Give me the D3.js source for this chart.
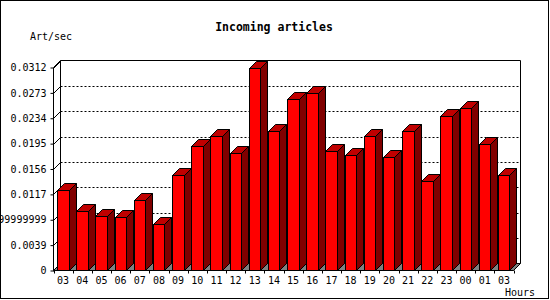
<!DOCTYPE html>
<html>
<head>
<meta charset="utf-8">
<script src="https://cdn.jsdelivr.net/npm/d3@7"></script>
<style>
  body { margin: 0; background: #fff; }
  svg text { font-family: "DejaVu Sans Mono", monospace; font-size: 10px; fill: #000; }
</style>
</head>
<body>
<svg id="chart" width="550" height="300"></svg>
<script>
var hours = ["03", "04", "05", "06", "07", "08", "09", "10", "11", "12", "13", "14",
    "15", "16", "17", "18", "19", "20", "21", "22", "23", "00", "01", "03"];
var artPerSec = [0.0123, 0.0092, 0.00845, 0.00815, 0.0109, 0.0071, 0.01475, 0.0192,
    0.0206, 0.0181, 0.0312, 0.0215, 0.0264, 0.0273, 0.0184, 0.0178, 0.0206, 0.0175,
    0.0215, 0.0137, 0.0237, 0.0250, 0.0195, 0.01475];
var tickValues = [0, 0.0039, 0.0078, 0.0117, 0.0156, 0.0195, 0.0234, 0.0273, 0.0312];
var tickLabels = ["0", "0.0039", "0.0077999999999999", "0.0117", "0.0156", "0.0195",
    "0.0234", "0.0273", "0.0312"];

var svg = d3.select("#chart");
var dx = 7, dy = 7;
var plotLeft = 53.5, plotRight = 513.5, plotBottom = 270.5, plotTop = 67.5;

// slots by index, since "03" appears twice
var x = d3.scaleBand().domain(d3.range(hours.length)).range([plotLeft, plotRight]).padding(0);
var y = d3.scaleLinear().domain([0, 0.0312]).range([plotBottom, plotTop]);

// outer border
svg.append("rect").attr("x", 0.5).attr("y", 0.5).attr("width", 548).attr("height", 298)
    .attr("fill", "#fff").attr("stroke", "#000");

svg.append("text").attr("x", 274).attr("y", 31).attr("text-anchor", "middle")
    .style("font-size", "11.5px").style("font-weight", "bold").text("Incoming articles");
svg.append("text").attr("x", 30).attr("y", 40).text("Art/sec");
svg.append("text").attr("x", 535).attr("y", 296).attr("text-anchor", "end").text("Hours");

// back wall frame
svg.append("path")
    .attr("d", "M" + (plotLeft + dx) + "," + (plotBottom - dy) + "V" + (plotTop - dy) +
        "H" + (plotRight + dx) + "V" + (plotBottom - dy))
    .attr("fill", "none").attr("stroke", "#000");

// dotted grid on back wall
svg.selectAll(".grid")
    .data(tickValues.slice(1, -1))
    .enter()
    .append("line")
    .attr("x1", plotLeft + dx).attr("x2", plotRight + dx)
    .attr("y1", function(d) { return Math.round(y(d)) + 0.5 - dy; })
    .attr("y2", function(d) { return Math.round(y(d)) + 0.5 - dy; })
    .attr("stroke", "#000").attr("stroke-dasharray", "2,2");

// connectors from front ticks to back wall
svg.selectAll(".conn")
    .data(tickValues)
    .enter()
    .append("line")
    .attr("x1", plotLeft).attr("x2", plotLeft + dx)
    .attr("y1", function(d) { return Math.round(y(d)) + 0.5; })
    .attr("y2", function(d) { return Math.round(y(d)) + 0.5 - dy; })
    .attr("stroke", "#000");

// floor
svg.append("path")
    .attr("d", "M" + plotLeft + "," + plotBottom + "L" + (plotLeft + dx) + "," + (plotBottom - dy) +
        "H" + (plotRight + dx) + "L" + plotRight + "," + plotBottom + "Z")
    .attr("fill", "#808080").attr("stroke", "#000");

// 3d bars
var bw = 11.5, off = 3.5;
var bars = svg.selectAll(".bar")
    .data(artPerSec)
    .enter()
    .append("g")
    .attr("class", "bar");

bars.append("path")
    .attr("d", function(d, i) {
        var x1 = Math.round(x(i) + off + bw) + 0.5, yt = Math.round(y(d)) + 0.5;
        return "M" + x1 + "," + yt + "l" + dx + "," + (-dy) + "V" + (plotBottom - dy) +
            "L" + x1 + "," + plotBottom + "Z";
    })
    .attr("fill", "#800000").attr("stroke", "#000");

bars.append("path")
    .attr("d", function(d, i) {
        var x0 = Math.round(x(i) + off) + 0.5, x1 = Math.round(x(i) + off + bw) + 0.5,
            yt = Math.round(y(d)) + 0.5;
        return "M" + x0 + "," + yt + "l" + dx + "," + (-dy) + "H" + (x1 + dx) + "L" + x1 + "," + yt + "Z";
    })
    .attr("fill", "#c00000").attr("stroke", "#000");

bars.append("rect")
    .attr("x", function(d, i) { return Math.round(x(i) + off) + 0.5; })
    .attr("width", function(d, i) { return Math.round(x(i) + off + bw) - Math.round(x(i) + off); })
    .attr("y", function(d) { return Math.round(y(d)) + 0.5; })
    .attr("height", function(d) { return plotBottom - Math.round(y(d)) - 0.5; })
    .attr("fill", "#ff0000").attr("stroke", "#000");

// front y axis
var yAxis = d3.axisLeft(y).tickValues(tickValues).tickSize(3).tickPadding(4)
    .tickFormat(function(d, i) { return tickLabels[i]; });
var gy = svg.append("g").attr("transform", "translate(" + plotLeft + ",0)").call(yAxis);
gy.select(".domain").attr("d", "M0," + plotBottom + "V" + plotTop + "l" + dx + "," + (-dy));
gy.attr("font-family", null).attr("font-size", null);

// front x axis: labels centred, ticks at slot edges
var xAxis = d3.axisBottom(x).tickSize(0).tickPadding(6)
    .tickFormat(function(i) { return hours[i]; });
var gx = svg.append("g").attr("transform", "translate(0," + plotBottom + ")").call(xAxis);
gx.select(".domain").attr("d", "M" + plotLeft + ",0H" + plotRight);
gx.attr("font-family", null).attr("font-size", null);
gx.selectAll(".edge")
    .data(d3.range(hours.length + 1))
    .enter()
    .append("line")
    .attr("x1", function(i) { return Math.round(plotLeft + i * x.step()) + 0.5; })
    .attr("x2", function(i) { return Math.round(plotLeft + i * x.step()) + 0.5; })
    .attr("y1", 0).attr("y2", 3)
    .attr("stroke", "#000");
</script>
</body>
</html>
